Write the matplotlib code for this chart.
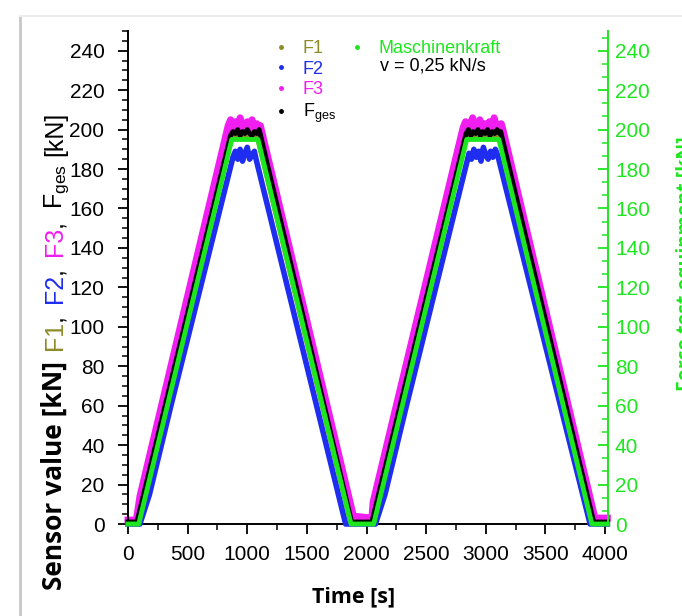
import matplotlib
matplotlib.use("Agg")
import matplotlib.pyplot as plt
from matplotlib.lines import Line2D
from matplotlib.ticker import MultipleLocator, AutoMinorLocator

plt.rcParams["font.family"] = ["Liberation Sans", "DejaVu Sans"]
plt.rcParams["mathtext.default"] = "regular"

# machine force (test equipment), v = 0.25 kN/s
MK_T = [0, 90, 870, 1090, 1870, 2060, 2840, 3110, 3890, 4020]
MK_V = [0, 0, 195, 195, 0, 0, 195, 195, 0, 0]

# F1 sensor (mostly hidden behind the others)
F1_T = [0, 85, 865, 1085, 1865, 2055, 2835, 3115, 3895, 4020]
F1_V = [1, 1, 196, 196, 1, 1, 196, 196, 1, 1]

# F2 sensor (lags, lower plateau)
F2_T = [0, 100, 180, 360,
        880, 900, 920, 940, 960, 980, 1000, 1020, 1040, 1060, 1070,
        1825, 2075, 2155, 2335,
        2860, 2880, 2900, 2920, 2940, 2960, 2980, 3000, 3020, 3040, 3060, 3080, 3100,
        3875, 4020]
F2_V = [0, 0, 15, 60,
        186, 189, 185, 190, 184, 188, 191, 185, 187, 189, 186,
        0, 0, 15, 60,
        188, 185, 190, 186, 189, 184, 191, 187, 185, 189, 186, 190, 187,
        0, 0]

# F3 sensor (leads, higher plateau)
F3_T = [0, 70, 100,
        840, 860, 880, 900, 920, 940, 960, 980, 1000, 1020, 1040, 1060, 1080, 1100, 1110,
        1890, 2045, 2055,
        2810, 2830, 2850, 2870, 2890, 2910, 2930, 2950, 2970, 2990, 3010, 3030, 3050,
        3070, 3090, 3110, 3130, 3140,
        3915, 4020]
F3_V = [2, 2, 14,
        202, 205, 200, 204, 201, 206, 202, 199, 204, 201, 205, 200, 203, 201, 202,
        4, 3, 11,
        201, 204, 199, 203, 206, 200, 202, 205, 199, 203, 201, 204, 200,
        206, 202, 199, 203, 201,
        3, 3]

# F_ges (sum signal)
FG_T = [0, 75,
        860, 880, 900, 920, 940, 960, 980, 1000, 1020, 1040, 1060, 1080, 1100,
        1875, 2045,
        2835, 2855, 2875, 2895, 2915, 2935, 2955, 2975, 2995, 3015, 3035, 3055, 3075,
        3095, 3115, 3125,
        3905, 4020]
FG_V = [1, 1,
        197, 199, 198, 200, 197, 199, 198, 200, 198, 197, 199, 198, 200,
        1, 1,
        198, 200, 197, 199, 198, 200, 197, 199, 198, 200, 197, 199, 198,
        200, 198, 199,
        1, 1]

C_F1 = "#8c8c28"
C_F2 = "#1e2df0"
C_F3 = "#f01ef0"
C_FG = "#000000"
C_MK = "#1ee61e"

fig = plt.figure(figsize=(6.82, 6.16), dpi=100)
ax = fig.add_axes([128 / 682, 92 / 616, 480 / 682, 493 / 616])

ax.plot(F1_T, F1_V, color=C_F1, lw=3.5, clip_on=False, zorder=2)
ax.plot(F2_T, F2_V, color=C_F2, lw=4, clip_on=False, zorder=3)
ax.plot(F3_T, F3_V, color=C_F3, lw=5, clip_on=False, zorder=2.5)
ax.plot(FG_T, FG_V, color=C_FG, lw=3.5, clip_on=False, zorder=4)

ax.set_xlim(0, 4025)
ax.set_ylim(0, 250)
ax.xaxis.set_major_locator(MultipleLocator(500))
ax.xaxis.set_minor_locator(MultipleLocator(250))
ax.yaxis.set_major_locator(MultipleLocator(20))
ax.yaxis.set_minor_locator(MultipleLocator(5))
ax.tick_params(which="major", direction="out", length=7, width=1.3, labelsize=15, pad=8)
ax.tick_params(axis="y", which="major", pad=10)
ax.tick_params(which="minor", direction="out", length=4, width=1.1)
ax.spines["top"].set_visible(False)
ax.spines["right"].set_visible(False)
for s in ("left", "bottom"):
    ax.spines[s].set_linewidth(1.4)

ax2 = ax.twinx()
ax2.plot(MK_T, MK_V, color=C_MK, lw=3.5, clip_on=False, zorder=5)
ax2.set_ylim(0, 250)
ax2.yaxis.set_major_locator(MultipleLocator(20))
ax2.yaxis.set_minor_locator(AutoMinorLocator(3))
ax2.tick_params(which="major", direction="in", length=7, width=1.3, labelsize=15,
                pad=5, color=C_MK, labelcolor=C_MK)
ax2.tick_params(which="minor", direction="in", length=4, width=1.1, color=C_MK)
for s in ("left", "top", "bottom"):
    ax2.spines[s].set_visible(False)
ax2.spines["right"].set_color(C_MK)
ax2.spines["right"].set_linewidth(1.4)

# legends
sens = [("F1", C_F1), ("F2", C_F2), ("F3", C_F3), ("F$_{ges}$", C_FG)]
h = [Line2D([], [], ls="none", marker="o", ms=2.5, color=c) for _, c in sens]
ax.legend(h, [s for s, _ in sens], labelcolor=[c for _, c in sens],
          loc="upper left", bbox_to_anchor=(0.278, 1.0), frameon=False,
          fontsize=13, handlelength=1.2, handletextpad=0.6,
          labelspacing=0.2, borderpad=0)
ax2.legend([Line2D([], [], ls="none", marker="o", ms=2.5, color=C_MK)],
           ["Maschinenkraft"], labelcolor=[C_MK], loc="upper left",
           bbox_to_anchor=(0.436, 1.0), frameon=False, fontsize=13,
           handlelength=1.2, handletextpad=0.6, borderpad=0)
ax2.text(0.525, 0.93, "v = 0,25 kN/s", transform=ax2.transAxes, fontsize=13,
         color="black", va="center")

# axis titles
fig.text(354 / 682, 19 / 616, "Time [s]", family="Open Sans",
         weight="bold", fontsize=15.5, ha="center", va="center")

# multicoloured y label, stacked bottom to top
reg = dict(fontsize=18)
parts = [("Sensor value [kN]", "black", dict(family="Open Sans", weight="bold", fontsize=19)),
         ("F1", C_F1, reg), (",", "black", reg),
         ("F2", C_F2, reg), (",", "black", reg),
         ("F3", C_F3, reg), (",", "black", reg),
         ("F$_{ges}$", "black", reg), ("[kN]", "black", reg)]
gaps = [11, 0, 11, 0, 11, 0, 11, 8, 0]
fig.canvas.draw()
r = fig.canvas.get_renderer()
ypix = 26
for (s, c, kw), g in zip(parts, gaps):
    t = fig.text(62 / 682, ypix / 616, s, color=c, rotation=90, rotation_mode="anchor",
                 ha="left", va="baseline", **kw)
    bb = t.get_window_extent(r)
    ypix = bb.y1 + g

fig.text(686 / 682, 352 / 616, "Force test equipment [kN]", color=C_MK,
         family="Open Sans", weight="bold", fontsize=14, rotation=90,
         ha="center", va="center")

# slide frame edge
fig.add_artist(Line2D([20 / 682, 20 / 682], [0, 600 / 616], color="#c8c8c8", lw=2))
fig.add_artist(Line2D([20 / 682, 1], [600 / 616, 600 / 616], color="#ececec", lw=1.5))

fig.savefig("out.png", dpi=100)
